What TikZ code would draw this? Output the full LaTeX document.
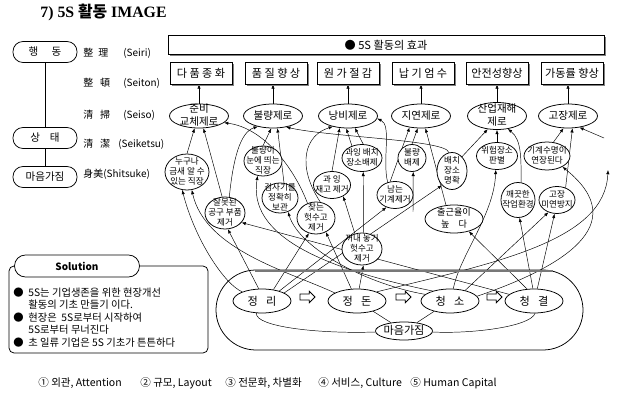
\documentclass[tikz,border=0pt]{standalone}
\usepackage{fontspec}
\setmainfont{Noto Sans CJK KR}
\newfontfamily\titlefont{Liberation Serif}
\usetikzlibrary{arrows.meta,positioning,shapes.geometric,shapes.arrows,shadows,backgrounds}
\definecolor{shadegray}{RGB}{128,128,128}
\definecolor{bargray}{RGB}{120,120,120}
\newcommand{\intext}[1]{\makebox[0pt]{\smash{\raisebox{-.3em}{\begin{tabular}{@{}c@{}}#1\end{tabular}}}}}

\begin{document}
\begin{tikzpicture}[x=0.03cm, y=-0.03cm, line width=0.65pt,
    sidebox/.style={draw, rounded corners=0.3cm, minimum width=1.92cm,
        minimum height=0.63cm, inner sep=0pt, font=\fontsize{9}{10}\selectfont},
    lbl/.style={anchor=west, inner sep=0pt, font=\fontsize{8.5}{10}\selectfont},
    effect/.style={draw, fill=white, minimum width=1.86cm, minimum height=0.66cm,
        inner sep=0pt, font=\fontsize{9.5}{11}\selectfont,
        drop shadow={shadow xshift=1.5pt, shadow yshift=-1.5pt, fill=shadegray, opacity=1}},
    goal/.style={ellipse, draw, fill=white, minimum width=1.77cm,
        minimum height=0.72cm, inner sep=0pt, font=\fontsize{9}{10.2}\selectfont},
    sub/.style={ellipse, draw, fill=white, inner sep=0pt, font=\fontsize{7.3}{8.8}\selectfont},
    five/.style={ellipse, draw, fill=white, minimum width=1.74cm,
        minimum height=0.72cm, inner sep=0pt, font=\fontsize{9.5}{11}\selectfont},
    hollow/.style={single arrow, draw, fill=white, minimum height=0.45cm,
        text height=0.16cm, text depth=0pt, single arrow head extend=0.08cm, inner sep=0pt},
    tab/.style={draw, fill=white, rounded corners=0.33cm, minimum width=3.75cm,
        minimum height=0.66cm, inner sep=0pt, font=\bfseries\fontsize{8.5}{10}\selectfont},
    foot/.style={anchor=west, inner sep=0pt, font=\fontsize{9}{10}\selectfont},
    link/.style={-{Latex[length=3.6pt,width=2.8pt]}}
]
\useasboundingbox (0,0) rectangle (619,403);

% title
\node[font=\bfseries\fontsize{13.5}{15}\selectfont, anchor=west, inner sep=0pt] (title)
    at (40,12) {{\titlefont 7) 5S }활동{\titlefont\ IMAGE}};

% left column
\node[sidebox] (haeng) at (45,52) {행\hspace{0.4cm}동};
\node[sidebox] (sangtae) at (45,138) {상\hspace{0.3cm}태};
\node[sidebox] (mind) at (45,177) {마음가짐};
\draw (haeng) -- (sangtae);
\draw (sangtae) -- (mind);

\node[lbl] (seiri) at (83,53) {\makebox[1.2cm][l]{整\hspace{0.15cm}理}(Seiri)};
\node[lbl] (seiton) at (83,83) {\makebox[1.2cm][l]{整\hspace{0.2cm}頓}(Seiton)};
\node[lbl] (seiso) at (83,115) {\makebox[1.2cm][l]{清\hspace{0.2cm}掃}(Seiso)};
\node[lbl] (seiketsu) at (83,144) {\makebox[1.05cm][l]{清\hspace{0.2cm}潔}(Seiketsu)};
\node[lbl] (shitsuke) at (83,174) {身美(Shitsuke)};

% effects
\node[effect, minimum width=13.08cm, minimum height=0.57cm, font=\fontsize{9.5}{10}\selectfont]
    (hdr) at (386,45) {● 5S 활동의 효과};
\node[effect] (dapum) at (201,73) {다 품 종 화};
\node[effect] (pumjil) at (276,73) {품 질 향 상};
\node[effect] (wonga) at (348,73) {원 가 절 감};
\node[effect] (napgi) at (423,73) {납 기 엄 수};
\node[effect] (anjeon) at (497,73) {안전성향상};
\node[effect] (gadong) at (572,73) {가동률 향상};

% zero goals
\node[goal] (junbi) at (199,116) {\intext{준비\\교체제로}};
\node[goal] (bulryang) at (273,116) {\intext{불량제로}};
\node[goal] (nangbi) at (348,116) {\intext{낭비제로}};
\node[goal] (jiyeon) at (421,116) {\intext{지연제로}};
\node[goal, minimum height=0.81cm] (sanup) at (497,116) {\intext{산업재해\\제로}};
\node[goal] (gojang) at (568,116) {\intext{고장제로}};

% small ellipses
\node[sub, minimum width=1.32cm, minimum height=1.08cm] (nuguna) at (187,172) {\intext{누구나\\금새 알 수\\있는 직장}};
\node[sub, minimum width=1.14cm, minimum height=0.9cm] (bulnun) at (263,161) {\intext{불량이\\눈에 띄는\\직장}};
\node[sub, minimum width=1.2cm, minimum height=0.96cm] (jalmot) at (225,213) {\intext{잘못된\\공구 부품\\제거}};
\node[sub, minimum width=1.08cm, minimum height=0.9cm] (geomsa) at (280,198) {\intext{검사기를\\정확히\\보관}};
\node[sub, minimum width=1.14cm, minimum height=0.96cm] (chatneun) at (316,218) {\intext{찾는\\헛수고\\제거}};
\node[sub, minimum width=1.11cm, minimum height=0.81cm] (gwajae) at (332,185) {\intext{과 잉\\재고 제거}};
\node[sub, minimum width=1.2cm, minimum height=0.81cm] (gwabae) at (362,158) {\intext{과잉 배치\\장소배제}};
\node[sub, minimum width=1.2cm, minimum height=0.96cm] (kkeonae) at (362,249) {\intext{꺼내 놓기\\헛수고\\제거}};
\node[sub, minimum width=1.08cm, minimum height=0.81cm] (namneun) at (395,195) {\intext{남는\\기계제거}};
\node[sub, minimum width=0.84cm, minimum height=0.81cm] (bulbae) at (412,158) {\intext{불량\\배제}};
\node[sub, minimum width=0.9cm, minimum height=1.11cm] (baechi) at (452,171) {\intext{배치\\장소\\명확}};
\node[sub, minimum width=1.74cm, minimum height=0.84cm, font=\fontsize{7.8}{10}\selectfont]
    (chulgeun) at (454,219) {\intext{출근율이\\높\quad 다}};
\node[sub, minimum width=1.23cm, minimum height=0.81cm] (wiheom) at (497,156) {\intext{위험장소\\판별}};
\node[sub, minimum width=1.02cm, minimum height=1.05cm] (kkaek) at (518,200) {\intext{깨끗한\\작업환경}};
\node[sub, minimum width=1.38cm, minimum height=0.84cm] (suumyeong) at (547,156) {\intext{기계수명이\\연장된다}};
\node[sub, minimum width=1.08cm, minimum height=0.81cm] (mieon) at (557,200) {\intext{고장\\미연방지}};

% 5S ring
\draw[rounded corners=1.2cm] (216,270) rectangle (583,350);
\draw[bargray, line width=1.6pt] (255,271) -- (553,271);
\node[five] (jeongri) at (262,301) {정\hspace{0.25cm}리};
\node[five] (jeongdon) at (357,301) {정\hspace{0.25cm}돈};
\node[five] (cheongso) at (450,301) {청\hspace{0.25cm}소};
\node[five] (cheonggyeol) at (534,301) {청\hspace{0.25cm}결};
\node[five, minimum width=1.71cm, minimum height=0.54cm] (maeum) at (404,331) {\intext{마음가짐}};
\node[hollow] (go1) at (306,297) {};
\node[hollow] (go2) at (402,297) {};
\node[hollow] (go3) at (493,297) {};

% solution box
\draw[rounded corners=0.15cm] (9,266) rectangle (208,353);
\node[tab] (soltab) at (77,266) {Solution};
\node[anchor=north west, inner sep=0pt, font=\fontsize{8.8}{10.7}\selectfont] (soltext) at (13,287)
    {\begin{tabular}{@{}l@{\hspace{4pt}}l@{}}
     ●&5S는 기업생존을 위한 현장개선\\
      &활동의 기초 만들기 이다.\\
     ●&현장은\ \ 5S로부터 시작하여\\
      &5S로부터 무너진다\\
     ●&초 일류 기업은 5S 기초가 튼튼하다
     \end{tabular}};

% footer
\node[foot] (foot1) at (38,383) {① 외관, Attention};
\node[foot] (foot2) at (140,383) {② 규모, Layout};
\node[foot] (foot3) at (225,383) {③ 전문화, 차별화};
\node[foot] (foot4) at (318,383) {④ 서비스, Culture};
\node[foot] (foot5) at (410,383) {⑤ Human Capital};

\coordinate (gfree) at (604,138);
\coordinate (ffree) at (608,170);
\coordinate (bfree) at (413,212);

\begin{scope}[on background layer]
% goals up to effects
\draw[link] (junbi.north) -- (junbi.north |- dapum.south);
\draw[link] (bulryang.north) -- (bulryang.north |- pumjil.south);
\draw[link] (nangbi.north) -- (nangbi.north |- wonga.south);
\draw[link] (jiyeon.north) -- (jiyeon.north |- napgi.south);
\draw[link] (sanup.north) -- (sanup.north |- anjeon.south);
\draw[link] (gojang.north) -- (gojang.north |- gadong.south);

% small ellipses up to goals
\draw[link] (nuguna.north) -- (junbi.250);
\draw[link] (jalmot.100) -- (junbi.290);
\draw[link] (chatneun.120) .. controls (295,170) and (265,128) .. (junbi.-15);
\draw[link] (chatneun.75) .. controls (296,165) and (305,135) .. (nangbi.215);
\draw[link] (jalmot.75) .. controls (233,160) and (240,132) .. (bulryang.215);
\draw[link] (bulnun.north) -- (bulryang.262);
\draw[link] (geomsa.75) -- (bulryang.290);
\draw[link] (baechi.100) .. controls (448,140) and (330,137) .. (bulryang.-40);
\draw[link] (gwajae.north) -- (nangbi.235);
\draw[link] (gwabae.130) -- (nangbi.262);
\draw[link] (gwabae.85) -- (nangbi.300);
\draw[link] (kkeonae.115) -- (gwajae.-45);
\draw[link] (kkeonae.85) -- (gwabae.-85);
\draw[link] (namneun.120) .. controls (382,160) and (392,125) .. (nangbi.-5);
\draw[link] (namneun.110) -- (jiyeon.225);
\draw[link] (bulbae.north) -- (jiyeon.255);
\draw[link] (chulgeun.120) -- (jiyeon.290);
\draw[link] (bfree) -- (bulbae.-85);
\draw[link] (baechi.55) -- (sanup.235);
\draw[link] (wiheom.north) -- (sanup.south);
\draw[link] (kkaek.80) .. controls (521,160) and (522,140) .. (sanup.-50);
\draw[link] (suumyeong.65) -- (gojang.250);
\draw[link] (mieon.55) -- (gojang.290);
\draw[link] (gfree) -- (gojang.-45);

% 5S up to small ellipses
\draw[link] (jeongri.155) .. controls (225,285) and (195,240) .. (nuguna.-105);
\draw[link] (jeongdon.160) .. controls (290,272) and (205,250) .. (nuguna.-75);
\draw[link] (jeongri.105) -- (jalmot.-80);
\draw[link] (cheonggyeol.165) -- (jalmot.-30);
\draw[link] (cheongso.150) .. controls (320,268) and (248,235) .. (bulnun.-110);
\draw[link] (cheongso.165) .. controls (370,285) and (300,250) .. (geomsa.-60);
\draw[link] (jeongri.45) -- (chatneun.-115);
\draw[link] (jeongdon.115) -- (chatneun.-55);
\draw[link] (jeongri.30) -- (namneun.-125);
\draw[link] (jeongri.20) -- (baechi.-125);
\draw[link] (jeongdon.80) -- (kkeonae.-85);
\draw[link] (cheongso.75) .. controls (460,255) and (494,215) .. (wiheom.-95);
\draw[link] (cheonggyeol.120) -- (chulgeun.-40);
\draw[link] (cheonggyeol.95) -- (kkaek.-85);
\draw[link] (cheonggyeol.75) -- (mieon.-100);
\draw[link] (cheongso.35) -- (mieon.-125);
\draw[link] (cheongso.10) .. controls (560,268) and (635,225) .. (suumyeong.-35);
\draw[link] (jeongdon.25) .. controls (500,262) and (605,240) .. (ffree);

% 5S to mind
\draw (jeongdon) -- (maeum);
\draw (cheongso) -- (maeum);
\draw (jeongri.-115) .. controls (255,327) and (320,334) .. (maeum.182);
\draw (cheonggyeol.-85) .. controls (530,327) and (470,334) .. (maeum.-2);
\end{scope}
\end{tikzpicture}
\end{document}
